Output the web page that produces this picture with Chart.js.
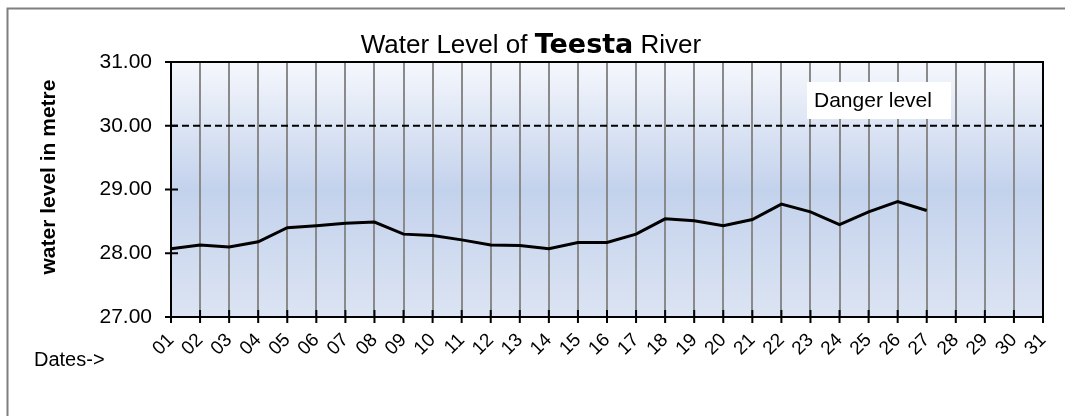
<!DOCTYPE html>
<html>
<head>
<meta charset="utf-8">
<script src="https://cdn.jsdelivr.net/npm/chart.js@4"></script>
<style>
  html, body { margin: 0; padding: 0; background: #fff; }
  canvas { display: block; }
</style>
</head>
<body>
<canvas id="levelCanvas" width="1065" height="416"></canvas>
<script>
// dates of the month shown on x axis
const dates = ["01","02","03","04","05","06","07","08","09","10","11","12","13","14","15","16",
  "17","18","19","20","21","22","23","24","25","26","27","28","29","30","31"];

// daily water level (m), only up to the 27th
const waterLevel = [28.07, 28.13, 28.10, 28.18, 28.40, 28.43, 28.47, 28.49, 28.30, 28.28,
  28.21, 28.13, 28.12, 28.07, 28.17, 28.17, 28.30, 28.54, 28.51, 28.43,
  28.53, 28.77, 28.65, 28.45, 28.65, 28.81, 28.67];

const dangerLevel = 30.0;
const yTicks = [27, 28, 29, 30, 31];

const ARIAL = "'Liberation Sans', Arial, sans-serif";

// plot background + borders + cross ticks + extra texts
const decorations = {
  id: "decorations",
  beforeDraw(chart) {
    const ctx = chart.ctx;
    const a = chart.chartArea;
    const g = ctx.createLinearGradient(0, a.top, 0, a.bottom);
    g.addColorStop(0, "#f5f7fc");
    g.addColorStop(0.5, "#c3d2ec");
    g.addColorStop(1, "#dce4f3");
    ctx.save();
    ctx.fillStyle = g;
    ctx.fillRect(a.left, a.top, a.right - a.left, a.bottom - a.top);
    ctx.restore();
  },
  afterDatasetsDraw(chart) {
    const ctx = chart.ctx;
    const a = chart.chartArea;
    const x = chart.scales.x;
    const y = chart.scales.y;
    ctx.save();

    // danger line
    const dy = y.getPixelForValue(dangerLevel);
    ctx.strokeStyle = "#000";
    ctx.lineWidth = 2;
    ctx.setLineDash([7, 4]);
    ctx.beginPath();
    ctx.moveTo(a.left, dy);
    ctx.lineTo(a.right, dy);
    ctx.stroke();
    ctx.setLineDash([]);

    // frame
    ctx.strokeRect(a.left, a.top, a.right - a.left, a.bottom - a.top);

    // tick marks crossing the axes
    ctx.beginPath();
    dates.forEach((d, i) => {
      const px = x.getPixelForValue(i);
      ctx.moveTo(px, a.bottom - 7);
      ctx.lineTo(px, a.bottom + 6);
    });
    yTicks.forEach(v => {
      const py = y.getPixelForValue(v);
      ctx.moveTo(a.left - 6, py);
      ctx.lineTo(a.left + 7, py);
    });
    ctx.stroke();

    // danger level label
    ctx.fillStyle = "#fff";
    ctx.fillRect(807, 82, 144, 37);
    ctx.fillStyle = "#000";
    ctx.font = "21px " + ARIAL;
    ctx.textBaseline = "middle";
    ctx.textAlign = "left";
    ctx.fillText("Danger level", 814, 101);

    // title with bold river name
    const parts = [
      ["Water Level of ", "26px " + ARIAL],
      ["Teesta", "bold 27px 'DejaVu Sans', sans-serif"],
      [" River", "26px " + ARIAL]
    ];
    let total = 0;
    parts.forEach(p => { ctx.font = p[1]; total += ctx.measureText(p[0]).width; });
    let tx = 531 - total / 2;
    ctx.textBaseline = "alphabetic";
    parts.forEach(p => {
      ctx.font = p[1];
      ctx.fillText(p[0], tx, 53);
      tx += ctx.measureText(p[0]).width;
    });

    // y axis title
    ctx.save();
    ctx.translate(49, 177);
    ctx.rotate(-Math.PI / 2);
    ctx.textAlign = "center";
    ctx.textBaseline = "middle";
    ctx.font = "bold 21px " + ARIAL;
    ctx.fillText("water level in metre", 0, 0);
    ctx.restore();

    // x axis caption
    ctx.font = "20px " + ARIAL;
    ctx.textBaseline = "middle";
    ctx.textAlign = "left";
    ctx.fillText("Dates->", 34, 360);

    // outer frame (top and left visible)
    ctx.strokeStyle = "#7f7f7f";
    ctx.lineWidth = 2;
    ctx.beginPath();
    ctx.moveTo(7.5, 416);
    ctx.lineTo(7.5, 8.5);
    ctx.lineTo(1065, 8.5);
    ctx.stroke();
    ctx.restore();
  }
};

const config = {
  type: "line",
  data: {
    labels: dates,
    datasets: [
      {
        label: "Water level",
        data: waterLevel,
        borderColor: "#000",
        borderWidth: 3,
        pointRadius: 0,
        tension: 0,
        fill: false
      }
    ]
  },
  options: {
    responsive: false,
    animation: false,
    layout: { padding: { top: 62, right: 22, left: 0, bottom: 0 } },
    plugins: {
      legend: { display: false },
      tooltip: { enabled: false }
    },
    scales: {
      x: {
        offset: false,
        grid: { color: "#8a8a8a", lineWidth: 2, drawTicks: false },
        border: { color: "#000", width: 2 },
        ticks: {
          autoSkip: false,
          maxRotation: 45,
          minRotation: 45,
          padding: 12,
          color: "#000",
          font: { family: ARIAL, size: 19 }
        },
        afterFit(scale) {
          scale.height = 99;
          scale.paddingLeft = 0;
          scale.paddingRight = 0;
        }
      },
      y: {
        min: 27,
        max: 31,
        grid: { display: false, drawTicks: false },
        border: { color: "#000", width: 2 },
        ticks: {
          stepSize: 1,
          padding: 19,
          color: "#000",
          font: { family: ARIAL, size: 21 },
          callback: v => Number(v).toFixed(2)
        },
        afterFit(scale) { scale.width = 171; }
      }
    }
  },
  plugins: [decorations]
};

const canvas = document.getElementById("levelCanvas");
if (canvas) {
  new Chart(canvas.getContext("2d"), config);
} else {
  console.error("no canvas");
}
</script>
</body>
</html>
